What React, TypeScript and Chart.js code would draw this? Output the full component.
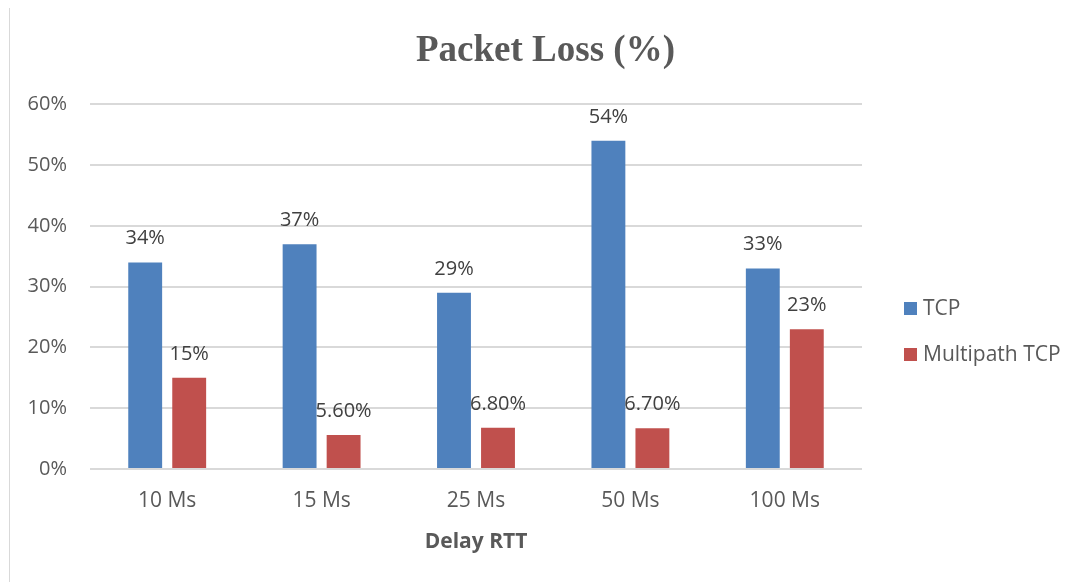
import React, { useEffect, useRef } from "react";
import { Chart, registerables } from "chart.js";

Chart.register(...registerables);

const categories = ["10 Ms", "15 Ms", "25 Ms", "50 Ms", "100 Ms"];
const tcpValues = [34, 37, 29, 54, 33];
const mptcpValues = [15, 5.6, 6.8, 6.7, 23];
const tcpLabels = ["34%", "37%", "29%", "54%", "33%"];
const mptcpLabels = ["15%", "5.60%", "6.80%", "6.70%", "23%"];
const yTicks = [0, 10, 20, 30, 40, 50, 60];

const TEXT = "#595959";
const FONT = "'Open Sans', 'DejaVu Sans', sans-serif";

const dataLabelPlugin = {
  id: "dataLabels",
  afterDatasetsDraw(chart: any) {
    const ctx = chart.ctx;
    const all = [tcpLabels, mptcpLabels];
    ctx.save();
    ctx.font = `20px ${FONT}`;
    ctx.fillStyle = "#404040";
    ctx.textAlign = "center";
    ctx.textBaseline = "alphabetic";
    chart.data.datasets.forEach((ds: any, di: number) => {
      const meta = chart.getDatasetMeta(di);
      meta.data.forEach((el: any, i: number) => {
        ctx.fillText(all[di][i], el.x, el.y - 18);
      });
    });
    ctx.restore();
  },
};

const legendPlugin = {
  id: "customLegend",
  afterDraw(chart: any) {
    const ctx = chart.ctx;
    const x0 = chart.chartArea.right + 42;
    const centers = [301, 347];
    ctx.save();
    ctx.font = `21px ${FONT}`;
    ctx.textBaseline = "middle";
    ctx.textAlign = "left";
    chart.data.datasets.forEach((ds: any, i: number) => {
      const cy = centers[i];
      ctx.fillStyle = ds.backgroundColor;
      ctx.fillRect(x0, cy - 7, 13, 13);
      ctx.fillStyle = TEXT;
      ctx.fillText(ds.label, x0 + 19, cy);
    });
    ctx.restore();
  },
};

export default function App() {
  const ref = useRef<HTMLCanvasElement | null>(null);
  useEffect(() => {
    if (!ref.current) return;
    const chart = new Chart(ref.current, {
      type: "bar",
      data: {
        labels: categories,
        datasets: [
          {
            label: "TCP",
            data: tcpValues,
            backgroundColor: "#4f81bd",
            categoryPercentage: 0.57,
            barPercentage: 0.77,
          },
          {
            label: "Multipath TCP",
            data: mptcpValues,
            backgroundColor: "#c0504d",
            categoryPercentage: 0.57,
            barPercentage: 0.77,
          },
        ],
      },
      options: {
        responsive: false,
        animation: false,
        layout: { padding: 0 },
        plugins: {
          legend: { display: false },
          tooltip: { enabled: false },
          title: {
            display: true,
            text: "Packet Loss (%)",
            color: TEXT,
            font: { family: "'Liberation Serif', 'Times New Roman', serif", size: 37, weight: "bold" },
            padding: { top: 21, bottom: 31 },
          },
        },
        scales: {
          x: {
            afterFit(scale: any) {
              scale.height = 113;
            },
            grid: { display: false, drawTicks: false },
            border: { display: false },
            ticks: { color: TEXT, font: { family: FONT, size: 21 }, padding: 19 },
            title: {
              display: true,
              text: "Delay RTT",
              color: TEXT,
              font: { family: FONT, size: 21, weight: "bold" },
              padding: { top: 10, bottom: 27 },
            },
          },
          y: {
            min: 0,
            max: 60,
            afterBuildTicks(scale: any) {
              scale.ticks = yTicks.map((v) => ({ value: v }));
            },
            afterFit(scale: any) {
              scale.width = 80;
            },
            grid: { color: "#d9d9d9", lineWidth: 2, drawTicks: false },
            border: { display: false },
            ticks: {
              color: TEXT,
              font: { family: FONT, size: 20 },
              padding: 23,
              callback: (v: any) => `${v}%`,
            },
          },
          legendSpace: {
            type: "linear",
            position: "right",
            display: true,
            afterFit(scale: any) {
              scale.width = 219;
            },
            grid: { display: false, drawTicks: false },
            border: { display: false },
            ticks: { display: false },
          },
        },
      },
      plugins: [dataLabelPlugin, legendPlugin],
    });
    return () => chart.destroy();
  }, []);
  return (
    <div
      style={{
        marginTop: -1,
        marginLeft: 1,
        width: 1071,
        height: 574,
        borderTop: "1px solid #d9d9d9",
        borderLeft: "1px solid #d9d9d9",
      }}
    >
      <canvas ref={ref} width={1071} height={574} style={{ display: "block" }} />
    </div>
  );
}
